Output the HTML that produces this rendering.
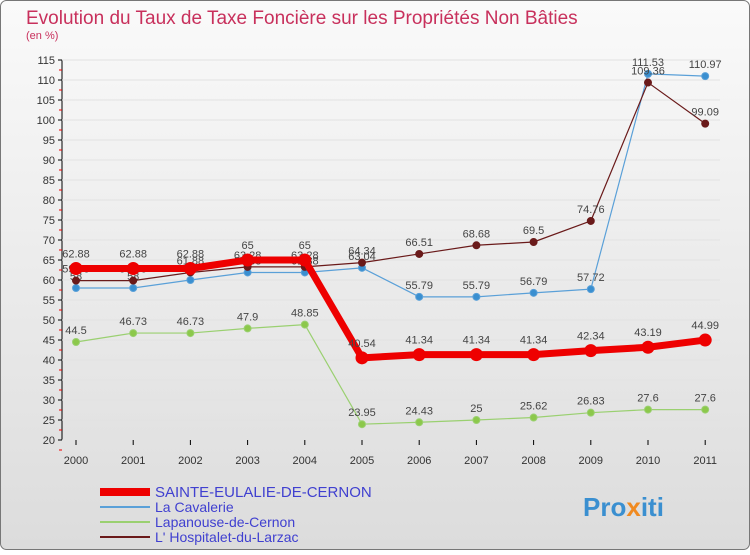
<!DOCTYPE html>
<html><head><meta charset="utf-8"><style>
body{margin:0;width:750px;height:550px;overflow:hidden;font-family:"Liberation Sans",sans-serif}
</style></head><body>
<svg id="c" width="750" height="550" xmlns="http://www.w3.org/2000/svg">
<defs><linearGradient id="bg" x1="0" y1="0" x2="0" y2="1"><stop offset="0" stop-color="#fafafa"/><stop offset="1" stop-color="#dcdcdc"/></linearGradient></defs>
<rect x="0.5" y="0.5" width="749" height="549" rx="6" fill="url(#bg)" stroke="#777"/>
<text x="26" y="24" font-size="19" fill="#c8305c">Evolution du Taux de Taxe Foncière sur les Propriétés Non Bâties</text>
<text x="26" y="39" font-size="11" fill="#c8305c">(en %)</text>
<g id="axes"></g><g id="series"></g><g id="legend"></g>
<text x="583" y="516" font-size="26" font-weight="bold" fill="#3a8fd0">Pro<tspan fill="#f08a20">x</tspan>iti</text>
</svg>
<script>
const years=["2000","2001","2002","2003","2004","2005","2006","2007","2008","2009","2010","2011"];
const yTicks=[20,25,30,35,40,45,50,55,60,65,70,75,80,85,90,95,100,105,110,115];
const sainte=[62.88,62.88,62.88,65,65,40.54,41.34,41.34,41.34,42.34,43.19,44.99];
const cavalerie=[58,58,60,61.88,61.88,63.04,55.79,55.79,56.79,57.72,111.53,110.97];
const lapanouse=[44.5,46.73,46.73,47.9,48.85,23.95,24.43,25,25.62,26.83,27.6,27.6];
const hospitalet=[59.85,59.85,61.88,63.28,63.28,64.34,66.51,68.68,69.5,74.76,109.36,99.09];
const names=["SAINTE-EULALIE-DE-CERNON","La Cavalerie","Lapanouse-de-Cernon","L' Hospitalet-du-Larzac"];
const NS="http://www.w3.org/2000/svg";
const X=i=>76+i*57.2, Y=v=>440-(v-20)*4;
function mk(t,a,p){const e=document.createElementNS(NS,t);for(const k in a)e.setAttribute(k,a[k]);p.appendChild(e);return e;}
const ax=document.getElementById('axes');
const yl=mk('line',{x1:62,y1:60,x2:62,y2:440,stroke:'#000'},ax);


const xl=mk('line',{x1:62,y1:440,x2:720,y2:440,stroke:'#000'},ax);


yTicks.forEach(v=>{
 mk('line',{x1:62,y1:Y(v),x2:720,y2:Y(v),stroke:'#e2e2e2'},ax);
 mk('line',{x1:58,y1:Y(v),x2:62,y2:Y(v),stroke:'#000'},ax);
 mk('line',{x1:59,y1:Y(v)+10,x2:62,y2:Y(v)+10,stroke:'#e00'},ax);
 const t=mk('text',{x:55,y:Y(v)+4,'font-size':11,'text-anchor':'end',fill:'#333'},ax);t.textContent=v;
 
 
});
years.forEach((y,i)=>{
 mk('line',{x1:X(i),y1:440,x2:X(i),y2:445,stroke:'#000'},ax);
 const t=mk('text',{x:X(i),y:464,'font-size':11,'text-anchor':'middle',fill:'#333'},ax);t.textContent=y;
 
 
});
const sg=document.getElementById('series');
function draw(data,color,dot,w,r,nm,lblOff){
 const g=mk('g',{},sg);
 
 
 mk('polyline',{points:data.map((v,i)=>X(i)+','+Y(v)).join(' '),fill:'none',stroke:color,'stroke-width':w,'stroke-linejoin':'round'},g);
 data.forEach((v,i)=>{
  const c=mk('circle',{cx:X(i),cy:Y(v),r:r,fill:dot,stroke:color,'stroke-width':1},g);
  
  
  const t=mk('text',{x:X(i),y:Y(v)+lblOff,'font-size':11,'text-anchor':'middle',fill:'#444'},g);t.textContent=v;
  
  
 });
}
draw(lapanouse,'#9ad070','#8cc84b',1.2,3.5,'series-lapanouse',-8);
draw(cavalerie,'#5aa0d8','#3a8fd0',1.2,3.5,'series-cavalerie',-8);
draw(hospitalet,'#6a1a1a','#6a1a1a',1.2,3.5,'series-hospitalet',-8);
draw(sainte,'#e00','#e00',7,6,'series-sainte-eulalie',-11);
const lg=document.getElementById('legend');
const cols=['#e00','#5aa0d8','#9ad070','#6a1a1a'],ws=[8,2,2,2];
names.forEach((n,i)=>{
 const yy=492+i*15;
 const g=mk('g',{},lg);
 
 
 mk('line',{x1:100,y1:yy,x2:150,y2:yy,stroke:cols[i],'stroke-width':ws[i]},g);
 const t=mk('text',{x:155,y:yy+5,'font-size':i==0?15:14,fill:'#4040d0'},g);t.textContent=n;
});
</script>
</body></html>
